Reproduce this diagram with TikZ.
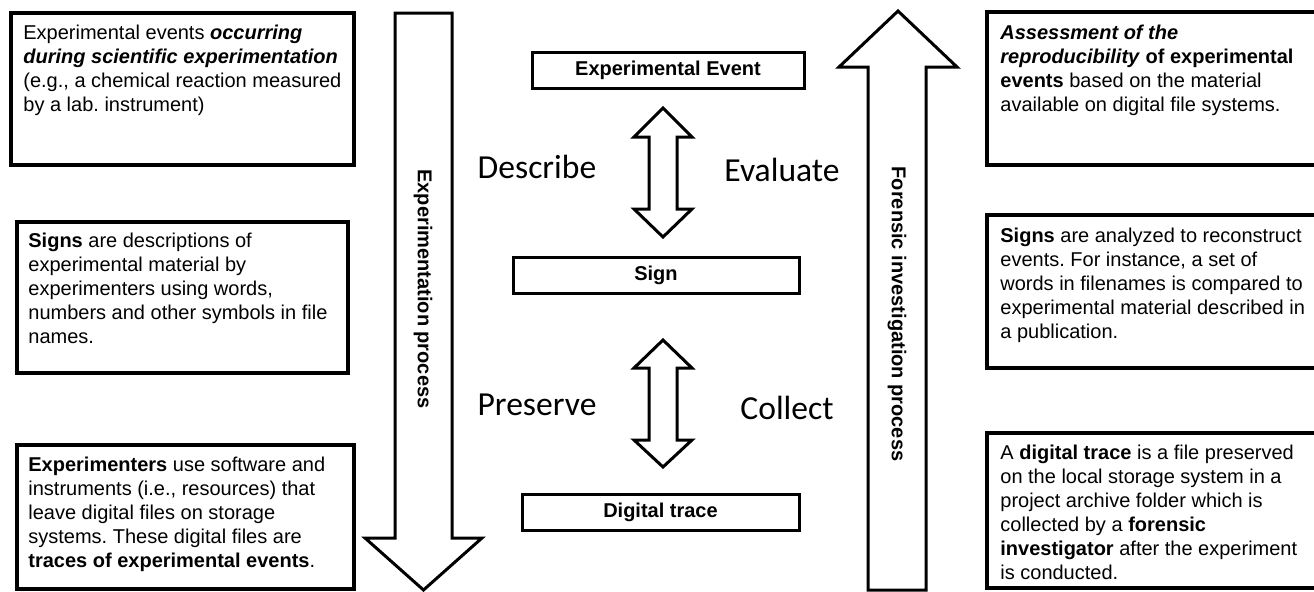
\documentclass[tikz,border=0pt]{standalone}
\usepackage{fontspec}
\setmainfont{Liberation Sans}
\newfontfamily\verbfont{Carlito}
\frenchspacing

\tikzset{
    infobox/.style={line width=1.7pt},
    bigarrow/.style={line width=1.5pt, line join=miter},
    infotext/.style={anchor=north west, align=left, inner sep=0pt, font=\fontsize{10}{12}\selectfont},
    stagebox/.style={draw, line width=1.5pt, inner sep=0pt, minimum height=18pt, font=\fontsize{10}{12}\selectfont\bfseries},
    verblabel/.style={inner sep=0pt, font=\verbfont\fontsize{16.8}{20}\selectfont},
    processlabel/.style={rotate=-90, inner sep=0pt, font=\fontsize{10}{12}\selectfont\bfseries}
}

\begin{document}
\begin{tikzpicture}[x=0.5pt, y=-0.5pt]
    \useasboundingbox (0, 0) rectangle (1314, 591);
    \clip (0, 0) rectangle (1314, 591);

    % left column
    \draw[infobox] (11, 13) rectangle (354, 165);
    \node[infotext] (eventtext) at (23, 25) {Experimental events \textbf{\textit{occurring}}\\\textbf{\textit{during scientific experimentation}}\\(e.g., a chemical reaction measured\\by a lab. instrument)};
    \draw[infobox] (17, 222) rectangle (348, 373);
    \node[infotext] (signtext) at (28, 233) {\textbf{Signs} are descriptions of\\experimental material by\\experimenters using words,\\numbers and other symbols in file\\names.};
    \draw[infobox] (17, 445) rectangle (354, 589);
    \node[infotext] (tracetext) at (28, 457) {\textbf{Experimenters} use software and\\instruments (i.e., resources) that\\leave digital files on storage\\systems. These digital files are\\\textbf{traces of experimental events}.};

    % experimentation arrow
    \draw[bigarrow] (395, 13) -- (452, 13) -- (452, 538) -- (482, 538) -- (423.5, 590) -- (365, 538) -- (395, 538) -- cycle;
    \node[processlabel] (experimentation) at (423, 289) {Experimentation process};

    % forensic arrow
    \draw[bigarrow] (868, 590) -- (868, 67) -- (839, 67) -- (898, 11) -- (957, 67) -- (926, 67) -- (926, 590) -- cycle;
    \node[processlabel] (forensic) at (897, 314) {Forensic investigation process};

    % middle column
    \node[stagebox, minimum width=136pt] (event) at (668, 70.5) {Experimental Event};
    \node[stagebox, minimum width=143pt] (sign) at (656, 275) {Sign};
    \node[stagebox, minimum width=138.5pt] (trace) at (660.5, 512.5) {Digital trace};

    \draw[bigarrow] (649, 137) -- (634, 137) -- (663, 108) -- (692, 137) -- (677, 137) -- (677, 209) -- (692, 209) -- (663, 237) -- (634, 209) -- (649, 209) -- cycle;
    \draw[bigarrow] (649, 368) -- (634, 368) -- (663, 340) -- (692, 368) -- (677, 368) -- (677, 440) -- (692, 440) -- (663, 467) -- (634, 440) -- (649, 440) -- cycle;

    \node[verblabel] (describe) at (537, 167) {Describe};
    \node[verblabel] (evaluate) at (782, 170) {Evaluate};
    \node[verblabel] (preserve) at (537, 405) {Preserve};
    \node[verblabel] (collect) at (787, 408) {Collect};

    % right column
    \draw[infobox] (987, 12) rectangle (1330, 165);
    \node[infotext] (assesstext) at (1000, 25) {\textbf{\textit{Assessment of the}}\\\textbf{\textit{reproducibility}} \textbf{of experimental}\\\textbf{events} based on the material\\available on digital file systems.};
    \draw[infobox] (987, 215) rectangle (1330, 368);
    \node[infotext] (analysetext) at (1000, 228) {\textbf{Signs} are analyzed to reconstruct\\events. For instance, a set of\\words in filenames is compared to\\experimental material described in\\a publication.};
    \draw[infobox] (987, 433) rectangle (1330, 588);
    \node[infotext] (collecttext) at (1000, 445) {A \textbf{digital trace} is a file preserved\\on the local storage system in a\\project archive folder which is\\collected by a \textbf{forensic}\\\textbf{investigator} after the experiment\\is conducted.};
\end{tikzpicture}
\end{document}
